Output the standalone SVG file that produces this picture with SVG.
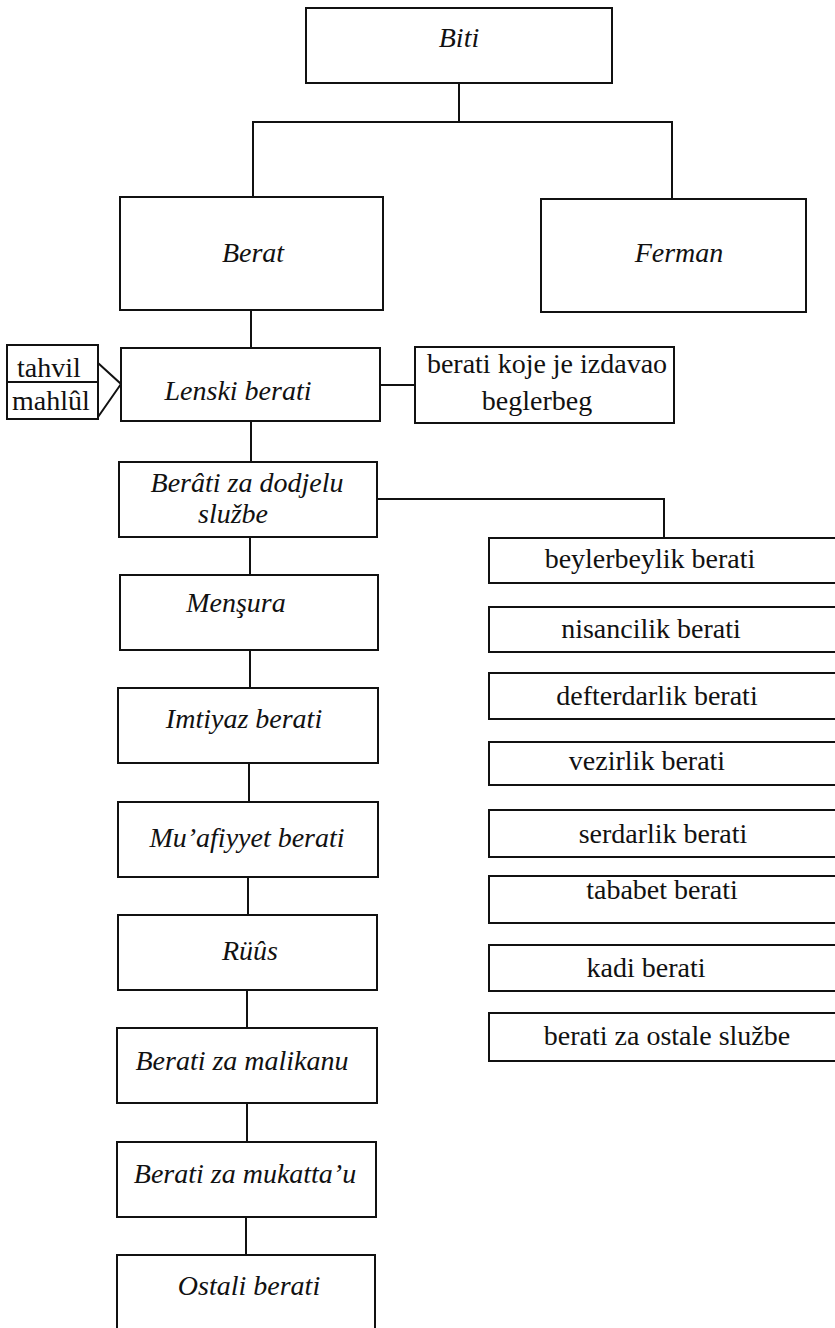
<svg xmlns="http://www.w3.org/2000/svg" width="835" height="1328" viewBox="0 0 835 1328">
<style>
rect{fill:#fff;stroke:#111;stroke-width:2}
line,polyline{stroke:#111;stroke-width:2;fill:none}
text{font-family:"Liberation Serif","Times New Roman",serif;font-size:28px;fill:#111}
.i{font-style:italic;text-anchor:middle}
.r{text-anchor:middle}
.s{text-anchor:start}
</style>
<g id="connectors">
<line x1="459" y1="83" x2="459" y2="122"/>
<polyline points="253,197 253,122 672,122 672,199"/>
<line x1="251" y1="310" x2="251" y2="348"/>
<polyline points="98,363 121,384 98,417"/>
<line x1="380" y1="385" x2="415" y2="385"/>
<line x1="251" y1="421" x2="251" y2="462"/>
<polyline points="377,499 664,499 664,538"/>
<line x1="250" y1="537" x2="250" y2="575"/>
<line x1="250" y1="650" x2="250" y2="688"/>
<line x1="249" y1="763" x2="249" y2="802"/>
<line x1="248" y1="877" x2="248" y2="915"/>
<line x1="247" y1="990" x2="247" y2="1028"/>
<line x1="247" y1="1103" x2="247" y2="1142"/>
<line x1="246" y1="1217" x2="246" y2="1255"/>
</g>
<g id="biti"><rect x="306" y="8" width="306" height="75"/><text class="i" x="459" y="47">Biti</text></g>
<g id="berat"><rect x="120" y="197" width="263" height="113"/><text class="i" x="253" y="262">Berat</text></g>
<g id="ferman"><rect x="541" y="199" width="265" height="113"/><text class="i" x="679" y="262">Ferman</text></g>
<g id="tahvil-mahlul"><rect x="7" y="345" width="91" height="74"/><line x1="7" y1="382" x2="98" y2="382"/><text class="s" x="17" y="377">tahvil</text><text class="s" x="12" y="410">mahlûl</text></g>
<g id="lenski"><rect x="121" y="348" width="259" height="73"/><text class="i" x="238" y="400">Lenski berati</text></g>
<g id="beglerbeg"><rect x="415" y="347" width="259" height="76"/><text class="r" x="547" y="373">berati koje je izdavao</text><text class="r" x="537" y="410">beglerbeg</text></g>
<g id="dodjela"><rect x="119" y="462" width="258" height="75"/><text class="i" x="247" y="492">Berâti za dodjelu</text><text class="i" x="233" y="523">službe</text></g>
<g id="mensura"><rect x="120" y="575" width="258" height="75"/><text class="i" x="236" y="612">Menşura</text></g>
<g id="imtiyaz"><rect x="118" y="688" width="260" height="75"/><text class="i" x="244" y="728">Imtiyaz berati</text></g>
<g id="muafiyyet"><rect x="118" y="802" width="260" height="75"/><text class="i" x="247" y="847">Mu’afiyyet berati</text></g>
<g id="ruus"><rect x="118" y="915" width="259" height="75"/><text class="i" x="250" y="960">Rüûs</text></g>
<g id="malikane"><rect x="117" y="1028" width="260" height="75"/><text class="i" x="242" y="1070">Berati za malikanu</text></g>
<g id="mukataa"><rect x="117" y="1142" width="259" height="75"/><text class="i" x="245" y="1183">Berati za mukatta’u</text></g>
<g id="ostali"><rect x="117" y="1255" width="258" height="80"/><text class="i" x="249" y="1295">Ostali berati</text></g>
<g id="beylerbeylik"><rect x="489" y="538" width="360" height="45"/><text class="r" x="650" y="568">beylerbeylik berati</text></g>
<g id="nisancilik"><rect x="489" y="607" width="360" height="45"/><text class="r" x="651" y="638">nisancilik berati</text></g>
<g id="defterdarlik"><rect x="489" y="673" width="360" height="46"/><text class="r" x="657" y="705">defterdarlik berati</text></g>
<g id="vezirlik"><rect x="489" y="742" width="360" height="43"/><text class="r" x="647" y="770">vezirlik berati</text></g>
<g id="serdarlik"><rect x="489" y="810" width="360" height="47"/><text class="r" x="663" y="843">serdarlik berati</text></g>
<g id="tababet"><rect x="489" y="876" width="360" height="47"/><text class="r" x="662" y="899">tababet berati</text></g>
<g id="kadi"><rect x="489" y="945" width="360" height="46"/><text class="r" x="646" y="977">kadi berati</text></g>
<g id="ostale"><rect x="489" y="1013" width="360" height="48"/><text class="r" x="667" y="1045">berati za ostale službe</text></g>
</svg>
